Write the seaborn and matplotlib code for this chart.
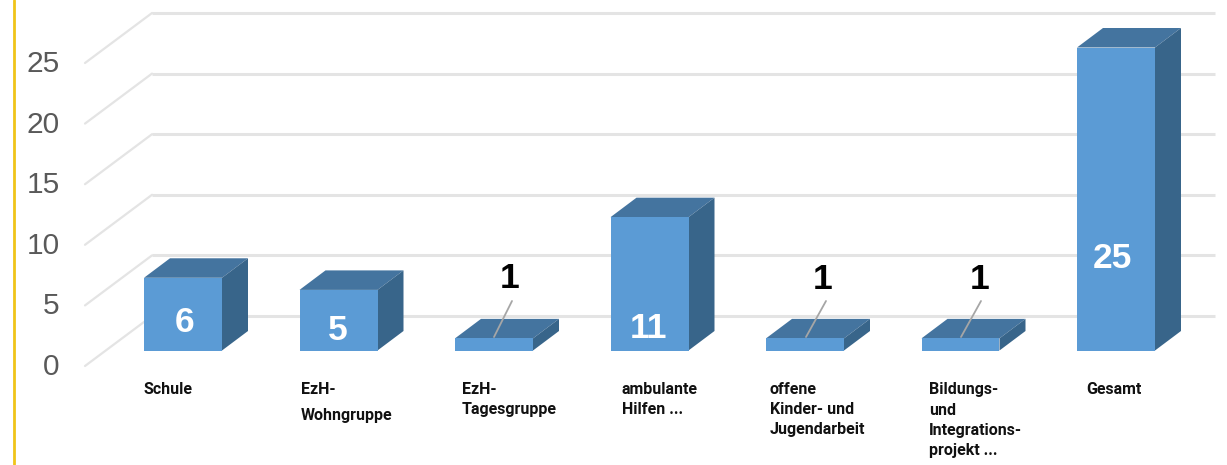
import matplotlib
matplotlib.use("Agg")
import matplotlib.pyplot as plt
import seaborn as sns
from matplotlib.transforms import ScaledTranslation

# data
categories = ["Schule", "EzH-\nWohngruppe", "EzH-\nTagesgruppe", "ambulante\nHilfen ...",
              "offene\nKinder- und\nJugendarbeit", "Bildungs-\nund\nIntegrations-\nprojekt ...", "Gesamt"]
values = [6, 5, 1, 11, 1, 1, 25]
y_ticks = [0, 5, 10, 15, 20, 25]

# layout (pixels of the 1227x465 picture)
W, H = 1227, 465
AX_L, AX_B = 64, 372
X0, X_STEP = 183.0, 155.5      # centre of first bar, bar spacing
Y0, Y_UNIT = 350.5, 12.12      # baseline, pixels per unit
DX_PX, DY_PX = 26.0, 19.5      # bar depth
label_left = [143, 301, 462, 622, 770, 929, 1086]
label_spacing = [1.2, 1.88, 1.42, 1.42, 1.42, 1.43, 1.2]
value_pos = [(185, 322), (338, 331), (510, 278), (648, 328), (823, 279), (980, 279), (1112, 259)]
leaders = {2: ((512, 301), (494, 337)), 4: ((826, 301), (806, 337)), 5: ((981, 301), (961, 337))}

FRONT, TOP, SIDE = "#5B9BD5", "#44749F", "#38658A"
GRID, TEXT = "#E4E4E4", "#595959"


def dx(px):
    return (px - X0) / X_STEP


def dy(px):
    return (Y0 - px) / Y_UNIT


sns.set_theme(style="white")
plt.rcParams["font.family"] = ["Liberation Sans", "DejaVu Sans"]
fig = plt.figure(figsize=(W / 100, H / 100), dpi=100, facecolor="white")
ax = fig.add_axes([AX_L / W, (H - AX_B) / H, (W - AX_L) / W, AX_B / H])

sns.barplot(x=categories, y=values, width=78 / X_STEP, color=FRONT, saturation=1,
            ax=ax, zorder=5, linewidth=0)
ax.set_xlim(dx(AX_L), dx(W))
ax.set_ylim(dy(AX_B), dy(0))
for s in ax.spines.values():
    s.set_visible(False)
ax.grid(False)
ax.set_xlabel("")
ax.set_ylabel("")

# walls
wall_up = dy(316)
wing_down = dy(366)
for t in y_ticks:
    ax.plot([dx(152), dx(1215)], [t + wall_up] * 2, color=GRID, lw=2.2, zorder=1,
            solid_capstyle="butt")
    ax.plot([dx(85), dx(152)], [t + wing_down, t + wall_up], color=GRID, lw=1.6, zorder=1)

# 3D faces built from the bars
ddx, ddy = DX_PX / X_STEP, DY_PX / Y_UNIT
for bar in ax.patches[:len(values)]:
    x1, w, h = bar.get_x(), bar.get_width(), bar.get_height()
    x2 = x1 + w
    ax.fill([x1, x2, x2 + ddx, x1 + ddx], [h, h, h + ddy, h + ddy], color=TOP, lw=0, zorder=4)
    ax.fill([x2, x2 + ddx, x2 + ddx, x2], [0, ddy, h + ddy, h], color=SIDE, lw=0, zorder=4)

# value labels
for v, (px, py) in zip(values, value_pos):
    col = "black" if v == 1 else "white"
    ax.text(dx(px), dy(py), str(v), color=col, fontsize=25.5, fontweight="bold",
            ha="center", va="center", zorder=8)
for (a, b) in leaders.values():
    ax.plot([dx(a[0]), dx(b[0])], [dy(a[1]), dy(b[1])], color="#A6A6A6", lw=1.3, zorder=7)

# y ticks, shifted to the front end of the wings
ax.set_yticks([t + wing_down + 0.16 for t in y_ticks], [str(t) for t in y_ticks])
ax.tick_params(axis="y", length=0, pad=3, labelsize=21.5, labelcolor=TEXT)

# category labels
ax.set_xticks(range(len(categories)), categories)
ax.tick_params(axis="x", length=0, pad=7.5)
for i, lab in enumerate(ax.get_xticklabels()):
    lab.set_fontfamily(["Roboto", "DejaVu Sans"])
    lab.set_fontweight("bold")
    lab.set_fontsize(11.5)
    lab.set_color("#111111")
    lab.set_ha("left")
    lab.set_multialignment("left")
    lab.set_linespacing(label_spacing[i])
    shift = (label_left[i] - (X0 + i * X_STEP)) / 100
    lab.set_transform(lab.get_transform() + ScaledTranslation(shift, 0, fig.dpi_scale_trans))

# yellow page rule
fig.add_artist(plt.Line2D([14 / W, 14 / W], [0, 1], color="#F0C419", lw=2.0))

fig.savefig("out.png", dpi=100)
